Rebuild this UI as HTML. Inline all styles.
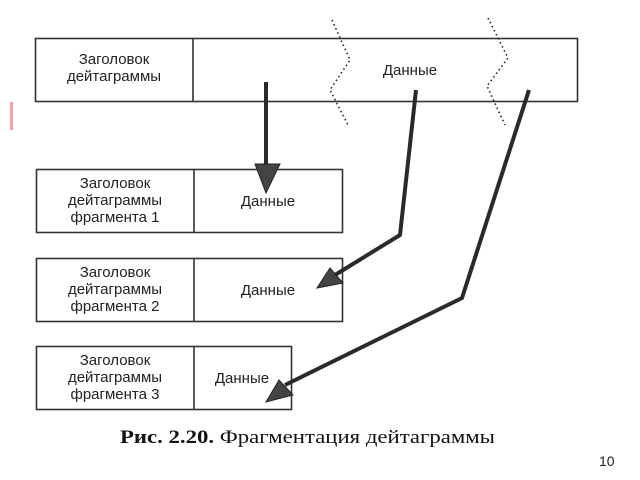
<!DOCTYPE html>
<html><head><meta charset="utf-8"><style>
html,body{margin:0;padding:0;background:#fff;width:640px;height:480px;overflow:hidden}
svg{display:block}
.t{font-family:"Liberation Sans",sans-serif;font-size:15px;fill:#222}
</style></head><body>
<svg width="640" height="480" viewBox="0 0 640 480" xmlns="http://www.w3.org/2000/svg">
<rect x="10" y="102" width="3" height="28" fill="#f2a0a8"/>
<g fill="none" stroke="#333" stroke-width="1.6">
<rect x="35.5" y="38.5" width="542" height="63"/>
<line x1="193" y1="38" x2="193" y2="102"/>
<rect x="36.5" y="169.5" width="306" height="63"/>
<line x1="194" y1="169" x2="194" y2="233"/>
<rect x="36.5" y="258.5" width="306" height="63"/>
<line x1="194" y1="258" x2="194" y2="322"/>
<rect x="36.5" y="346.5" width="255" height="63"/>
<line x1="194" y1="346" x2="194" y2="410"/>
</g>
<g fill="none" stroke="#222" stroke-width="1.6" stroke-dasharray="1.5 3">
<polyline points="332,20 350,60 330,90 348,125"/>
<polyline points="488,18 508,58 487,86 505,125"/>
</g>
<g class="t" text-anchor="middle">
<text x="114" y="64">Заголовок</text>
<text x="114" y="81">дейтаграммы</text>
<text x="410" y="75">Данные</text>
<text x="115" y="188">Заголовок</text>
<text x="115" y="205">дейтаграммы</text>
<text x="115" y="222">фрагмента 1</text>
<text x="268" y="206">Данные</text>
<text x="115" y="277">Заголовок</text>
<text x="115" y="294">дейтаграммы</text>
<text x="115" y="311">фрагмента 2</text>
<text x="268" y="295">Данные</text>
<text x="115" y="365">Заголовок</text>
<text x="115" y="382">дейтаграммы</text>
<text x="115" y="399">фрагмента 3</text>
<text x="242" y="383">Данные</text>
</g>
<g fill="none" stroke="#2a2a2a" stroke-width="4" stroke-linejoin="round">
<line x1="266" y1="82" x2="266" y2="168"/>
<polyline points="416,90 400,235 335,275"/>
<polyline points="529,90 462,298 285,385"/>
</g>
<g fill="#444" stroke="#222" stroke-width="1">
<polygon points="255,164 280,164 266,193"/>
<polygon points="317,288 330,268 343,283"/>
<polygon points="266,402 279,380 293,395"/>
</g>
<text x="120" y="443" textLength="375" lengthAdjust="spacingAndGlyphs" font-family="Liberation Serif,serif" font-size="19" fill="#111"><tspan font-weight="bold">Рис. 2.20.</tspan> Фрагментация дейтаграммы</text>
<text x="599" y="466" font-family="Liberation Sans,sans-serif" font-size="14" fill="#222">10</text>
</svg>
</body></html>
